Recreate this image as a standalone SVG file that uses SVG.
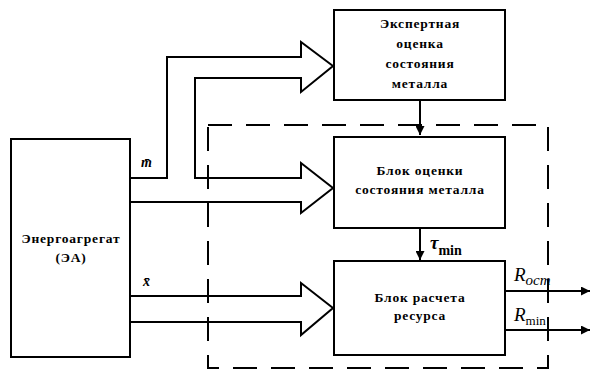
<svg xmlns="http://www.w3.org/2000/svg" width="592" height="373" viewBox="0 0 592 373">
<style>
.box{fill:#fff;stroke:#000;stroke-width:2}
.ln{fill:none;stroke:#000;stroke-width:2}
.dash{fill:none;stroke:#000;stroke-width:2;stroke-dasharray:24 14}
.t{font-family:'Liberation Serif','DejaVu Serif',serif;font-size:13.5px;font-weight:bold;letter-spacing:0.8px;fill:#000;text-anchor:middle}
.it{font-family:'Liberation Serif','DejaVu Serif',serif;font-style:italic;fill:#000}
</style>
<defs>
<marker id="ah" viewBox="0 0 10 10" refX="10" refY="5" markerWidth="6" markerHeight="4.5" orient="auto" markerUnits="strokeWidth">
<path d="M0,0 L10,5 L0,10 z" fill="#000"/>
</marker>
</defs>
<rect width="592" height="373" fill="#fff"/>
<path class="dash" d="M208,125 H548 V368 H208 Z"/>
<g id="connectors">
<path class="ln" d="M130,178 H167 V57 H301 V42 L333,66 L301,92 V78 H195 V178 H301 V163 L333,188 L301,213 V202 H130"/>
<path class="ln" d="M130,296 H301 V283 L333,308 L301,335 V322 H130"/>
<line class="ln" x1="420" y1="100" x2="420" y2="135" marker-end="url(#ah)"/>
<line class="ln" x1="420" y1="228" x2="420" y2="260" marker-end="url(#ah)"/>
<line class="ln" x1="505" y1="291" x2="590" y2="291" marker-end="url(#ah)"/>
<line class="ln" x1="505" y1="330" x2="590" y2="330" marker-end="url(#ah)"/>
<text class="it" x="141" y="167" font-size="14" font-weight="bold">m̄</text>
<text class="it" x="143" y="286" font-size="14" font-weight="bold">x̄</text>
<text class="it" x="430" y="249" font-size="19" font-weight="bold">τ<tspan font-style="normal" font-size="14" dy="6">min</tspan></text>
<text class="it" x="514" y="281" font-size="19">R<tspan font-size="15" dy="4">ост</tspan></text>
<text class="it" x="514" y="321" font-size="19">R<tspan font-style="normal" font-size="13" dy="4">min</tspan></text>
</g>
<g id="ea">
<rect class="box" x="11" y="139" width="119" height="218"/>
<text class="t" x="71" y="243">Энергоагрегат</text>
<text class="t" x="71" y="262">(ЭА)</text>
</g>
<g id="expert">
<rect class="box" x="334" y="10" width="171" height="90"/>
<text class="t" x="420" y="28">Экспертная</text>
<text class="t" x="420" y="48">оценка</text>
<text class="t" x="420" y="68">состояния</text>
<text class="t" x="420" y="88">металла</text>
</g>
<g id="assess">
<rect class="box" x="334" y="137" width="171" height="91"/>
<text class="t" x="420" y="175">Блок оценки</text>
<text class="t" x="420" y="194">состояния металла</text>
</g>
<g id="resource">
<rect class="box" x="334" y="261" width="171" height="94"/>
<text class="t" x="420" y="302">Блок расчета</text>
<text class="t" x="420" y="320">ресурса</text>
</g>
</svg>
